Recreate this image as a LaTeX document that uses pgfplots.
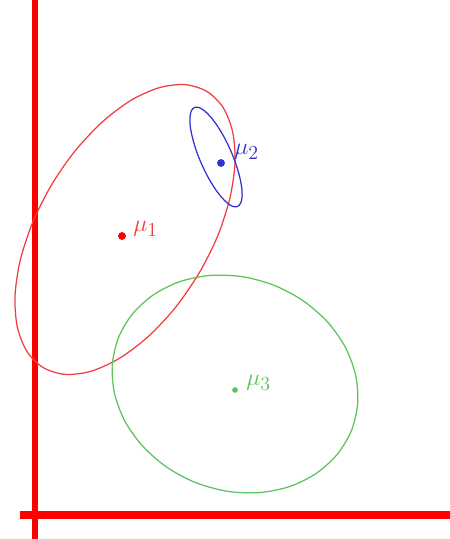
\documentclass[border=0pt]{standalone}
\usepackage{pgfplots}
\pgfplotsset{compat=1.18}
\definecolor{axred}{RGB}{255,0,0}
\definecolor{ellred}{RGB}{245,60,60}
\definecolor{ellblue}{RGB}{50,50,205}
\definecolor{ellgreen}{RGB}{90,195,90}
\begin{document}
\begin{tikzpicture}
\begin{axis}[
scale only axis,
width=4.5in,
height=5.39in,
xmin=0, xmax=450,
ymin=0, ymax=539,
hide axis,
]
% axes drawn as thick red lines
\addplot[axred, line width=5pt] coordinates {(35,0)(35,539)};
\addplot[axred, line width=6pt] coordinates {(20,24)(450,24)};

% red cluster
\addplot[ellred, line width=0.9pt, smooth cycle] coordinates {
	(206.5,447.8)(184.5,454.4)(158.5,451.1)(130.2,438.2)(101.6,416.4)(74.5,387.4)
	(50.9,353.1)(32.4,315.9)(20.1,278.1)(15.0,242.6)(17.4,211.6)(27.2,187.2)
	(43.6,171.2)(65.5,164.6)(91.5,167.9)(119.8,180.9)(148.4,202.6)(175.5,231.6)
	(199.1,265.9)(217.7,303.1)(229.9,340.9)(235.0,376.4)(232.6,407.4)(222.9,431.8)
};
% blue cluster
\addplot[ellblue, line width=0.9pt, smooth cycle] coordinates {
	(237.6,332.5)(240.7,335.9)(242.1,342.3)(241.7,351.5)(239.5,362.8)(235.8,375.4)
	(230.7,388.4)(224.6,401.0)(217.9,412.3)(211.1,421.5)(204.6,428.1)(198.9,431.5)
	(194.4,431.5)(191.3,428.1)(190.0,421.7)(190.3,412.5)(192.5,401.2)(196.2,388.6)
	(201.3,375.6)(207.4,363.0)(214.1,351.7)(220.9,342.5)(227.4,335.9)(233.1,332.5)
};
% green cluster
\addplot[ellgreen, line width=0.9pt, smooth cycle] coordinates {
	(351.6,108.8)(357.7,136.0)(355.5,164.4)(345.1,192.2)(327.2,217.4)(302.9,238.4)
	(274.1,253.7)(242.6,262.3)(210.6,263.6)(180.2,257.5)(153.6,244.3)(132.5,225.1)
	(118.4,201.2)(112.3,174.0)(114.5,145.6)(124.9,117.8)(142.9,92.6)(167.1,71.6)
	(195.9,56.3)(227.4,47.7)(259.5,46.4)(289.8,52.5)(316.4,65.7)(337.5,84.9)
};

% means
\addplot[only marks, mark=*, mark size=2.6pt, color=axred] coordinates {(122,303)};
\addplot[only marks, mark=*, mark size=2.6pt, color=ellblue] coordinates {(221,376)};
\addplot[only marks, mark=*, mark size=1.8pt, color=ellgreen] coordinates {(235,149)};

\node[anchor=west, text=ellred, font=\fontsize{19}{21}\selectfont, inner sep=0pt] at (axis cs:133,310) {$\mu_1$};
\node[anchor=west, text=ellblue, font=\fontsize{19}{21}\selectfont, inner sep=0pt] at (axis cs:234,387) {$\mu_2$};
\node[anchor=west, text=ellgreen, font=\fontsize{19}{21}\selectfont, inner sep=0pt] at (axis cs:246,156) {$\mu_3$};
\end{axis}
\pgfresetboundingbox
\path (current axis.south west) rectangle (current axis.north east);
\end{tikzpicture}
\end{document}
